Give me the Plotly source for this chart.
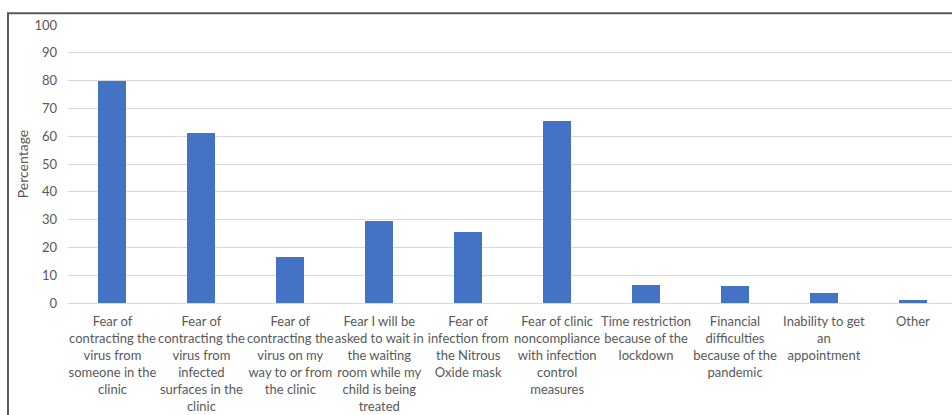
import plotly.graph_objects as go

categories = [
    "Fear of<br>contracting the<br>virus from<br>someone in the<br>clinic",
    "Fear of<br>contracting the<br>virus from<br>infected<br>surfaces in the<br>clinic",
    "Fear of<br>contracting the<br>virus on my<br>way to or from<br>the clinic",
    "Fear I will be<br>asked to wait in<br>the waiting<br>room while my<br>child is being<br>treated",
    "Fear of<br>infection from<br>the Nitrous<br>Oxide mask",
    "Fear of clinic<br>noncompliance<br>with infection<br>control<br>measures",
    "Time restriction<br>because of the<br>lockdown",
    "Financial<br>difficulties<br>because of the<br>pandemic",
    "Inability to get<br>an<br>appointment",
    "Other",
]
values = [80.0, 61.0, 16.6, 29.5, 25.4, 65.5, 6.6, 6.2, 3.7, 1.2]
y_ticks = list(range(0, 101, 10))

x_idx = list(range(len(categories)))

fig = go.Figure(
    go.Bar(
        x=x_idx,
        y=values,
        width=0.315,
        marker=dict(color="#4472C4", line=dict(width=0)),
    )
)

font_family = "Lato, 'Open Sans', sans-serif"
fig.update_layout(
    width=952,
    height=415,
    margin=dict(l=68, r=0, t=25, b=112),
    paper_bgcolor="white",
    plot_bgcolor="white",
    showlegend=False,
    font=dict(family=font_family, size=13, color="#595959"),
    bargap=0,
)
fig.update_xaxes(
    range=[-0.5, 9.44],
    tickmode="array",
    tickvals=x_idx,
    ticktext=categories,
    showgrid=False,
    showline=False,
    zeroline=False,
    ticks="",
    tickangle=0,
    ticklabelstandoff=9,
    tickfont=dict(size=13, color="#595959"),
)
fig.update_yaxes(
    range=[0, 100],
    tickmode="array",
    tickvals=y_ticks,
    showgrid=True,
    gridcolor="#D9D9D9",
    gridwidth=1,
    zeroline=True,
    zerolinecolor="#D9D9D9",
    zerolinewidth=1,
    showline=False,
    ticks="",
    ticklabelstandoff=10,
    tickfont=dict(size=13, color="#595959"),
    title=dict(text="Percentage", font=dict(size=14, color="#595959"), standoff=2),
)
# outer frame of the chart
fig.add_shape(
    type="rect", xref="paper", yref="paper",
    x0=-0.0679, x1=1.05, y0=-0.5, y1=1.042,
    line=dict(color="#595959", width=2), fillcolor="rgba(0,0,0,0)",
)
fig.write_html("out.html")
